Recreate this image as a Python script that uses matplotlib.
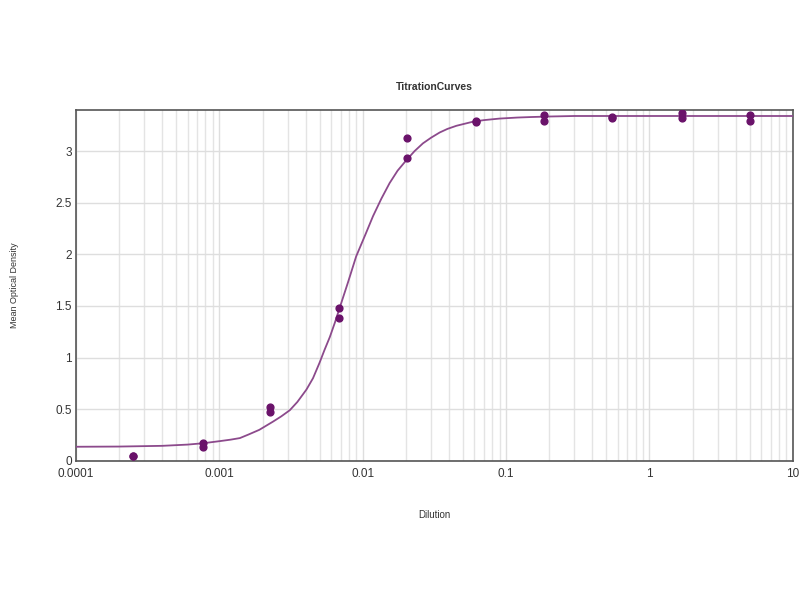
import numpy as np
import matplotlib.pyplot as plt
from matplotlib.ticker import LogLocator, FixedLocator, FixedFormatter

# measured points (two replicates per dilution)
dilution = [0.000251, 0.000251, 0.000764, 0.000764, 0.00227, 0.00227,
            0.00684, 0.00684, 0.0205, 0.0205, 0.062, 0.062,
            0.183, 0.183, 0.55, 0.55, 1.69, 1.69, 5.04, 5.04]
density = [0.05, 0.05, 0.177, 0.138, 0.52, 0.474,
           1.484, 1.381, 3.13, 2.93, 3.28, 3.295,
           3.35, 3.295, 3.32, 3.33, 3.37, 3.32, 3.35, 3.295]

# fitted curve
fit_x = [0.0001, 0.0002, 0.0004, 0.0006, 0.00077, 0.001, 0.0012, 0.00139,
         0.0016, 0.0019, 0.00237, 0.0027, 0.0031, 0.0035, 0.00405, 0.0045,
         0.005, 0.0054, 0.0059, 0.0064, 0.0069, 0.0079, 0.009, 0.0105,
         0.0118, 0.0135, 0.0154, 0.0175, 0.0201, 0.023, 0.0263, 0.030,
         0.0344, 0.039, 0.045, 0.0588, 0.07, 0.09, 0.12, 0.15, 0.2, 0.3, 1, 10]
fit_y = [0.136, 0.138, 0.145, 0.157, 0.17, 0.19, 0.205, 0.22,
         0.255, 0.30, 0.38, 0.43, 0.49, 0.57, 0.69, 0.80,
         0.95, 1.07, 1.20, 1.34, 1.48, 1.73, 1.98, 2.20,
         2.37, 2.54, 2.69, 2.81, 2.91, 3.00, 3.075, 3.13,
         3.18, 3.215, 3.245, 3.285, 3.30, 3.315, 3.325, 3.33, 3.335, 3.34, 3.34, 3.34]

x_ticks = [0.0001, 0.001, 0.01, 0.1, 1, 10]
x_labels = ['0.0001', '0.001', '0.01', '0.1', '1', '10']
y_ticks = [0, 0.5, 1, 1.5, 2, 2.5, 3]
y_labels = ['0', '0.5', '1', '1.5', '2', '2.5', '3']

plt.rcParams['font.family'] = ['Liberation Sans', 'DejaVu Sans']

fig = plt.figure(figsize=(8, 6), dpi=100)
ax = fig.add_axes([0.095, 0.232, 0.896, 0.585])

ax.set_xscale('log')
ax.set_xlim(0.0001, 10)
ax.set_ylim(0, 3.4)

ax.xaxis.set_major_locator(FixedLocator(x_ticks))
ax.xaxis.set_major_formatter(FixedFormatter(x_labels))
ax.xaxis.set_minor_locator(LogLocator(base=10, subs=np.arange(2, 10)))
ax.yaxis.set_major_locator(FixedLocator(y_ticks))
ax.yaxis.set_major_formatter(FixedFormatter(y_labels))

ax.grid(True, which='major', color='#dedede', lw=1)
ax.grid(True, which='minor', axis='x', color='#e4e4e4', lw=1)
ax.set_axisbelow(True)
ax.tick_params(which='both', length=0, labelsize=8.5, colors='#333333', pad=3)
ax.tick_params(axis='x', pad=5)
ax.tick_params(which='minor', labelbottom=False)

for s in ax.spines.values():
    s.set_color('#555555')
    s.set_linewidth(1.2)

ax.plot(fit_x, fit_y, color='#8c4a8c', lw=1.3, zorder=3)
ax.scatter(dilution, density, s=24, color='#6a126a', zorder=4)

ax.set_title('TitrationCurves', fontsize=7.5, fontweight='bold', color='#333333', pad=14)
ax.set_xlabel('Dilution', fontsize=7, color='#333333', labelpad=22)
ax.set_ylabel('Mean Optical Density', fontsize=6.5, color='#333333', labelpad=26)

fig.savefig('out.png')
